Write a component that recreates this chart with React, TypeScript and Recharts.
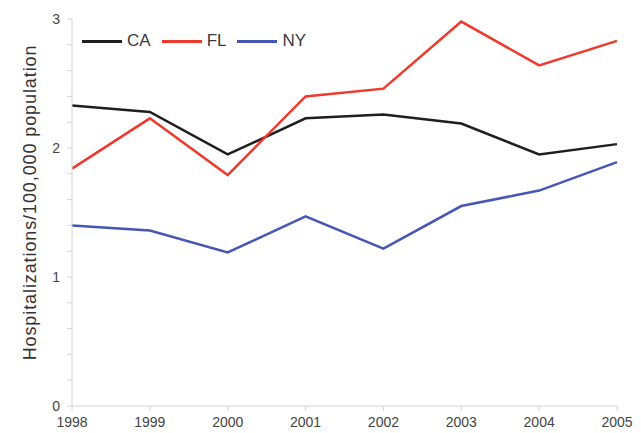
import { LineChart, Line, XAxis, YAxis, Legend } from "recharts"

const years = ["1998", "1999", "2000", "2001", "2002", "2003", "2004", "2005"]
const caValues = [2.33, 2.28, 1.95, 2.23, 2.26, 2.19, 1.95, 2.03]
const flValues = [1.84, 2.23, 1.79, 2.4, 2.46, 2.98, 2.64, 2.83]
const nyValues = [1.4, 1.36, 1.19, 1.47, 1.22, 1.55, 1.67, 1.89]
const yTicks = [0, 0.2, 0.4, 0.6, 0.8, 1, 1.2, 1.4, 1.6, 1.8, 2, 2.2, 2.4, 2.6, 2.8, 3]

const series = [
  { key: "CA", color: "#1f1f1f" },
  { key: "FL", color: "#ee3a2c" },
  { key: "NY", color: "#4656b4" },
]

const data = years.map((year, i) => ({
  year,
  CA: caValues[i],
  FL: flValues[i],
  NY: nyValues[i],
}))

const font = "'Liberation Sans', Arial, sans-serif"
const axisColor = "#d4d4d4"

function LegendContent() {
  return (
    <div style={{ display: "flex", alignItems: "center", fontFamily: font, fontSize: 17, color: "#3a3a3a" }}>
      {series.map((s) => (
        <div key={s.key} style={{ display: "flex", alignItems: "center", marginRight: 11 }}>
          <div style={{ width: 40, height: 3, background: s.color, marginRight: 5 }} />
          <span>{s.key}</span>
        </div>
      ))}
    </div>
  )
}

export default function App() {
  return (
    <div style={{ position: "absolute", left: 0, top: 0, width: 641, height: 433, background: "#fff" }}>
      <LineChart width={641} height={433} data={data} margin={{ top: 19, right: 24, left: 0, bottom: 0 }}>
        <XAxis
          dataKey="year"
          height={27}
          stroke={axisColor}
          tickSize={5}
          tickMargin={6}
          tick={{ fill: "#444", fontSize: 14, fontFamily: font }}
          interval={0}
        />
        <YAxis
          width={72}
          domain={[0, 3]}
          ticks={yTicks}
          interval={0}
          stroke={axisColor}
          tickSize={5}
          tickMargin={7}
          tickFormatter={(v: number) => (Number.isInteger(v) ? String(v) : "")}
          tick={{ fill: "#444", fontSize: 14, fontFamily: font }}
          label={{
            value: "Hospitalizations/100,000 population",
            angle: -90,
            position: "insideLeft",
            dx: 25,
            dy: -10,
            style: { textAnchor: "middle", fill: "#333", fontSize: 18, letterSpacing: 0.9, fontFamily: font },
          }}
        />
        <Legend
          layout="horizontal"
          verticalAlign="middle"
          align="center"
          content={<LegendContent />}
          wrapperStyle={{ top: 31, left: 82, width: "auto" }}
        />
        {series.map((s) => (
          <Line
            key={s.key}
            type="linear"
            dataKey={s.key}
            stroke={s.color}
            strokeWidth={2.5}
            dot={false}
            activeDot={false}
            isAnimationActive={false}
          />
        ))}
      </LineChart>
    </div>
  )
}
